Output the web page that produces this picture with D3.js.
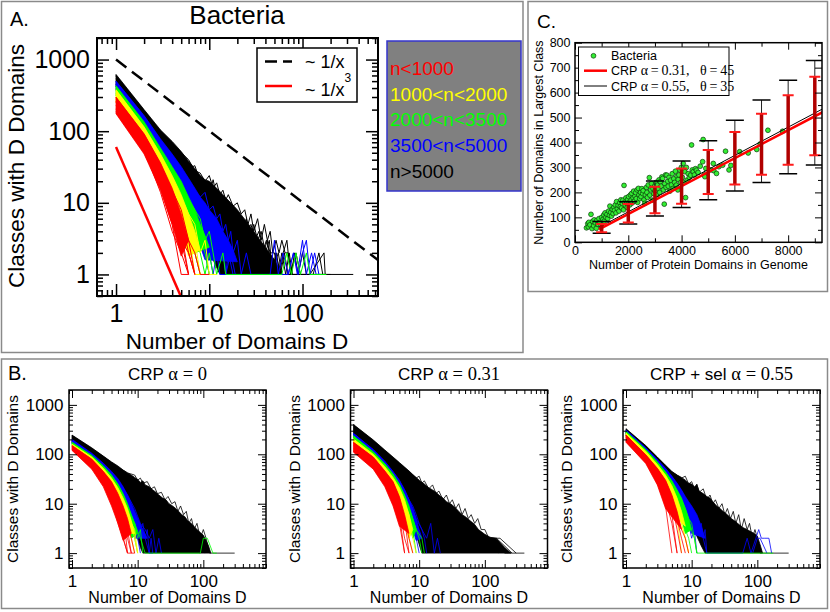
<!DOCTYPE html>
<html><head><meta charset="utf-8">
<script src="https://cdn.jsdelivr.net/npm/d3@7"></script>
<style>body{margin:0;background:#fff}svg{display:block}</style>
</head><body><svg id="c" width="830" height="612"></svg>
<script>
// ---------------- DATA ----------------
const logXTicks = [1, 10, 100];
const logYTicks = [1, 10, 100, 1000];
const groupNames = ["n<1000", "1000<n<2000", "2000<n<3500", "3500<n<5000", "n>5000"];
const groupColors = ["#ff0000", "#ffff00", "#00ff00", "#0000ff", "#000000"];

// Panel A reference lines
const A_ref1 = [[1, 1000], [640, 1.6]];      // ~1/x
const A_ref3 = [[1, 60], [5, 0.48]];         // ~1/x^3

// Panel A bundles (D, number of classes)
const A_black_up = [[1,620],[2,200],[3,104],[4,72],[5,52],[6,38],[7,30],[8,24],[9,21],[10,20],[12,16],[14,13],[17,10],[20,8],[25,5.5],[30,4],[35,3],[40,2.4],[50,1.6],[60,1]];
const A_black_lo = [[1,420],[2,125],[3,55],[4,28],[5,16],[7,6],[9,3],[11,1.6],[13,1]];
const A_black_lines = [
 [[1,600],[2,195],[3,100],[4,68],[5,50],[6,40],[7,28],[8,26],[9,20],[10,24],[11,16],[12,19],[13,13],[14,15],[15,11],[16,13],[18,9],[20,10],[22,7],[24,8],[26,5],[28,7],[30,4],[33,6],[36,3],[39,5],[42,3],[45,4],[48,2],[52,3],[56,2],[60,3],[65,2],[70,2],[76,1],[82,2],[90,1],[100,2],[110,1],[350,1]],
 [[1,550],[2,180],[3,90],[4,60],[5,42],[6,30],[7,33],[8,20],[9,17],[10,13],[11,21],[12,12],[13,10],[14,12],[15,8],[17,9],[19,6],[21,7],[23,4],[25,6],[27,3],[30,5],[33,3],[36,4],[40,2],[44,3],[48,1],[52,2],[57,1],[62,2],[68,3],[74,1],[85,2],[95,1],[200,1]],
 [[1,500],[2,160],[3,80],[4,50],[5,34],[6,25],[7,18],[8,22],[9,14],[10,11],[11,9],[12,10],[13,7],[14,8],[15,5],[16,6],[18,4],[20,5],[22,2],[24,4],[26,2],[29,3],[32,1],[35,2],[38,1],[42,2],[46,1],[55,2],[60,1],[110,1],[130,1],[150,2],[165,1]],
 [[1,450],[2,140],[3,68],[4,40],[5,26],[6,18],[7,13],[8,10],[9,8],[10,9],[11,6],[12,5],[13,6],[14,4],[15,5],[16,3],[17,4],[18,2],[20,3],[22,1],[24,2],[26,1],[40,1]],
 [[1,580],[2,190],[3,95],[4,62],[5,45],[6,34],[7,25],[8,19],[9,15],[10,12],[11,10],[12,9],[13,8],[14,6],[15,7],[17,5],[19,6],[21,4],[23,5],[25,3],[28,4],[31,2],[34,3],[37,2],[41,3],[45,2],[50,2],[55,1],[60,2],[66,1],[72,2],[78,1],[120,1],[170,2],[175,1]],
 [[1,520],[2,170],[3,86],[4,55],[5,38],[6,28],[7,22],[8,17],[9,13],[10,16],[11,11],[12,13],[13,9],[14,10],[16,7],[18,8],[20,5],[22,6],[25,4],[28,5],[31,3],[34,4],[38,2],[42,3],[47,1],[52,2],[58,1],[64,2],[70,1],[90,1]]
];
const A_blue_up = [[1,500],[2,165],[3,78],[4,48],[5,32],[6,22],[7,16],[8,12],[9,10],[10,8],[12,6],[14,4],[16,3],[18,2.2],[20,1.5]];
const A_blue_lo = [[1,370],[2,110],[3,45],[4,22],[5,12],[6,7],[7,4],[8,2.5],[9,1.6]];
const A_blue_lines = [
 [[1,490],[2,160],[3,75],[4,46],[5,30],[6,21],[7,15],[8,12],[9,14],[10,8],[11,9],[12,6],[13,7],[14,4],[15,5],[16,3],[17,4],[18,2],[20,3],[22,1],[25,2],[28,1],[45,1],[50,3],[55,1],[62,2],[70,1],[80,2],[90,1],[100,2],[110,3],[120,1],[135,2],[150,1]],
 [[1,420],[2,135],[3,60],[4,34],[5,21],[6,14],[7,10],[8,7],[9,5],[10,6],[11,3],[12,4],[13,2],[14,3],[15,1],[17,2],[19,1],[70,1],[80,2],[88,1],[100,3],[110,1],[125,2],[140,1],[160,1]],
 [[1,390],[2,120],[3,50],[4,26],[5,15],[6,9],[7,6],[8,4],[9,3],[10,2],[11,1],[12,2],[13,1],[20,1]],
 [[1,450],[2,145],[3,66],[4,38],[5,24],[6,16],[7,11],[8,8],[9,6],[10,4],[11,5],[12,3],[13,2],[14,3],[15,1],[16,2],[18,1]],
 [[1,380],[2,112],[3,46],[4,23],[5,13],[6,8],[7,5],[8,3],[9,2],[10,1]]
];
const A_green_up = [[1,430],[2,135],[3,58],[4,32],[5,20],[6,12],[7,8],[8,5],[9,3.5],[10,2.4]];
const A_green_lo = [[1,310],[2,95],[3,36],[4,16],[5,8],[6,4],[7,2]];
const A_green_lines = [
 [[1,420],[2,130],[3,55],[4,30],[5,18],[6,11],[7,8],[8,6],[9,3],[10,4],[11,2],[12,1],[14,2],[15,1],[60,1],[68,2],[76,1],[85,2],[95,1],[110,2],[120,1],[180,1]],
 [[1,340],[2,105],[3,40],[4,20],[5,10],[6,6],[7,3],[8,2],[9,1],[10,2],[11,1]],
 [[1,380],[2,115],[3,48],[4,25],[5,14],[6,8],[7,5],[8,3],[9,2],[10,1]],
 [[1,320],[2,98],[3,37],[4,17],[5,9],[6,4],[7,2],[8,1]]
];
const A_yellow_up = [[1,380],[2,115],[3,48],[4,24],[5,13],[6,7],[7,4],[8,2.2]];
const A_yellow_lo = [[1,250],[2,72],[3,25],[4,10],[5,4],[6,1.8]];
const A_yellow_lines = [
 [[1,370],[2,110],[3,45],[4,22],[5,12],[6,7],[7,5],[8,2],[9,3],[10,1],[12,1]],
 [[1,290],[2,90],[3,34],[4,15],[5,8],[6,3],[7,2],[8,1]],
 [[1,260],[2,80],[3,28],[4,13],[5,5],[6,4],[7,1],[9,1]],
 [[1,330],[2,100],[3,40],[4,18],[5,9],[6,5],[7,3],[8,1]],
 [[1,280],[2,85],[3,30],[4,12],[5,6],[6,2],[7,1]]
];
const A_red_up = [[1,300],[2,92],[3,36],[4,16],[5,7],[6,3]];
const A_red_lo = [[1,175],[2,48],[3,15],[4,5],[5,1.8]];
const A_red_lines = [
 [[1,295],[2,90],[3,35],[4,15],[5,8],[6,3],[7,2],[8,1],[10,1]],
 [[1,230],[2,65],[3,22],[4,9],[5,3],[6,2],[7,1]],
 [[1,180],[2,50],[3,16],[4,5],[5,1],[6,1]],
 [[1,210],[2,75],[3,28],[4,7],[5,4],[6,1]],
 [[1,250],[2,70],[3,18],[4,11],[5,2],[6,3],[7,1]],
 [[1,200],[2,55],[3,14],[4,4],[5,2],[6,1]],
 [[1,260],[2,80],[3,30],[4,12],[5,6],[6,2],[7,1]],
 [[1,190],[2,52],[3,17],[4,6],[5,3],[6,1]]
];

// Panel B1: CRP alpha = 0
const B1_black_up = [[1,245],[2,135],[3,92],[4,70],[5,58],[6,48],[7,42],[8,38],[9,34],[10,31],[11,27],[12,29],[13,24],[15,22],[17,19],[19,17],[21,15],[24,13],[27,12],[30,10],[34,9],[38,8],[42,7],[47,6],[52,5.5],[58,4.5],[65,4],[72,3.5],[80,3],[90,2.6],[100,2.3],[110,1.8],[120,1.4],[130,1]];
const B1_black_lo = [[1,170],[2,85],[3,48],[4,30],[5,20],[6,13],[7,8],[8,5],[9,3],[10,2],[11,1.3],[12,1]];
const B1_black_lines = [
 [[1,240],[2,130],[3,90],[5,55],[7,42],[9,38],[10,30],[11,33],[12,26],[14,28],[16,20],[18,22],[20,16],[23,17],[26,12],[29,14],[33,10],[37,11],[41,7],[45,9],[50,6],[55,7],[60,4],[66,5],[72,3],[80,4],[90,2],[100,3],[110,2],[125,1],[300,1]],
 [[1,220],[2,120],[3,80],[5,45],[7,30],[9,22],[11,16],[13,13],[15,15],[17,9],[19,11],[22,7],[25,8],[28,5],[32,6],[36,4],[40,5],[45,3],[50,4],[56,2],[62,3],[70,2],[78,3],[88,1],[98,2],[105,1]]
];
const B1_blue_up = [[1,200],[2,105],[3,66],[4,45],[5,32],[6,22],[7,15],[8,10],[9,7],[10,5],[12,3],[14,2]];
const B1_blue_lo = [[1,160],[2,80],[3,46],[4,28],[5,17],[6,10],[7,6],[8,3.5],[9,2]];
const B1_blue_lines = [
 [[1,195],[2,100],[3,60],[5,30],[7,15],[9,8],[11,4],[13,3],[15,2],[17,3],[19,1],[21,2],[23,1]],
 [[1,180],[2,95],[3,55],[5,25],[7,12],[9,6],[11,3],[13,2],[15,1],[17,1]],
 [[1,165],[2,84],[3,48],[4,30],[5,18],[6,11],[7,7],[8,4],[9,3],[10,2],[11,1]],
 [[1,190],[2,100],[3,62],[4,42],[5,29],[6,20],[7,13],[8,9],[9,6],[10,5],[11,3],[12,4],[13,2],[14,3],[15,1],[16,2],[17,1]]
];
const B1_green_up = [[1,175],[2,95],[3,58],[4,38],[5,25],[6,16],[7,10],[8,6],[9,4],[10,2.5]];
const B1_green_lo = [[1,150],[2,75],[3,40],[4,22],[5,13],[6,7],[7,4],[8,2]];
const B1_green_lines = [
 [[1,170],[2,90],[3,55],[5,22],[7,9],[9,4],[11,2],[13,1],[90,1],[100,2],[115,2],[140,1],[160,1]],
 [[1,155],[2,80],[3,44],[4,25],[5,15],[6,8],[7,5],[8,3],[9,2],[10,1]],
 [[1,172],[2,93],[3,57],[4,37],[5,24],[6,15],[7,9],[8,5],[9,4],[10,2],[11,3],[12,1]]
];
const B1_yellow_up = [[1,160],[2,88],[3,52],[4,33],[5,21],[6,13],[7,8],[8,4.5],[9,2.5]];
const B1_yellow_lo = [[1,140],[2,68],[3,35],[4,18],[5,10],[6,5],[7,2.5]];
const B1_yellow_lines = [
 [[1,155],[2,85],[3,50],[4,30],[5,17],[6,12],[7,5],[8,4],[9,2],[10,1]],
 [[1,145],[2,72],[3,38],[4,20],[5,11],[6,6],[7,3],[8,2],[9,1]],
 [[1,158],[2,86],[3,50],[4,31],[5,19],[6,11],[7,7],[8,4],[9,3],[10,1]]
];
const B1_red_up = [[1,150],[2,80],[3,45],[4,28],[5,16],[6,9],[7,5],[8,2.5]];
const B1_red_lo = [[1,120],[2,50],[3,22],[4,9],[5,4],[6,1.8]];
const B1_red_lines = [
 [[1,140],[2,70],[3,35],[4,15],[5,6],[6,2],[7,1]],
 [[1,130],[2,60],[3,30],[4,18],[5,5],[6,7],[7,1],[9,1]],
 [[1,145],[2,75],[3,42],[4,22],[5,12],[6,4],[7,3],[8,1]],
 [[1,125],[2,55],[3,25],[4,12],[5,4],[6,2],[7,1]],
 [[1,135],[2,65],[3,32],[4,16],[5,9],[6,3],[7,2],[8,1]],
 [[1,148],[2,78],[3,44],[4,26],[5,14],[6,8],[7,4],[8,2],[9,1]]
];

// Panel B2: CRP alpha = 0.31
const B2_black_up = [[1,400],[2,195],[3,122],[4,88],[5,68],[6,55],[7,46],[8,39],[9,34],[10,30],[12,25],[14,21],[16,19],[18,17],[20,15],[23,13],[26,11],[30,10],[35,8.5],[40,7],[45,6],[50,5.5],[60,4.5],[70,3.8],[80,3],[100,2.4],[120,2.1],[140,2],[160,1.8],[200,1.3],[250,1]];
const B2_black_lo = [[1,255],[2,110],[3,60],[4,35],[5,20],[6,12],[7,7],[8,4],[9,2.5],[10,1.5],[11,1]];
const B2_black_lines = [
 [[1,390],[2,190],[3,118],[5,65],[7,45],[9,33],[10,36],[11,26],[12,29],[14,20],[16,24],[18,16],[20,18],[23,12],[26,15],[29,10],[32,12],[36,8],[40,10],[45,6],[50,8],[56,5],[62,6],[70,4],[78,5],[88,3],[100,3],[115,2],[130,2],[150,2],[200,1],[400,1]],
 [[100,2],[120,2],[160,1]],
 [[110,2],[140,2],[220,1]],
 [[120,2],[150,2],[260,1]],
 [[130,2],[170,2],[300,1]]
];
const B2_blue_up = [[1,265],[2,125],[3,72],[4,45],[5,30],[6,19],[7,12],[8,8],[9,5],[10,3],[11,2]];
const B2_blue_lo = [[1,220],[2,95],[3,50],[4,30],[5,18],[6,10],[7,6],[8,3],[9,1.8]];
const B2_blue_lines = [
 [[1,260],[2,120],[3,70],[5,28],[7,12],[9,5],[11,3],[13,2],[15,4],[17,1],[19,2],[21,1]],
 [[1,225],[2,98],[3,52],[4,31],[5,19],[6,11],[7,6],[8,4],[9,2],[10,1]],
 [[1,262],[2,123],[3,71],[4,44],[5,29],[6,19],[7,12],[8,9],[9,6],[10,4],[11,3],[12,2],[13,1]]
];
const B2_green_up = [[1,235],[2,112],[3,64],[4,40],[5,25],[6,15],[7,9],[8,5],[9,3]];
const B2_green_lo = [[1,200],[2,88],[3,45],[4,26],[5,15],[6,8],[7,4],[8,2]];
const B2_green_lines = [
 [[1,230],[2,108],[3,60],[5,22],[7,8],[9,3],[11,2],[12,1]],
 [[1,205],[2,90],[3,47],[4,27],[5,16],[6,9],[7,4],[8,3],[9,1]],
 [[1,232],[2,110],[3,63],[4,39],[5,24],[6,14],[7,8],[8,5],[9,3],[10,2],[11,1]]
];
const B2_yellow_up = [[1,205],[2,100],[3,56],[4,34],[5,21],[6,12],[7,6],[8,3]];
const B2_yellow_lo = [[1,170],[2,78],[3,38],[4,20],[5,10],[6,4.5],[7,2]];
const B2_yellow_lines = [
 [[1,200],[2,95],[3,52],[4,30],[5,18],[6,10],[7,6],[8,2],[9,1]],
 [[1,175],[2,80],[3,40],[4,21],[5,11],[6,5],[7,2],[8,1]]
];
const B2_red_up = [[1,175],[2,88],[3,46],[4,28],[5,14],[6,6],[7,2.5]];
const B2_red_lo = [[1,110],[2,50],[3,22],[4,9],[5,3.5]];
const B2_red_lines = [
 [[1,165],[2,80],[3,42],[4,25],[5,11],[6,5],[7,1]],
 [[1,130],[2,60],[3,30],[4,14],[5,6],[6,1]],
 [[1,150],[2,70],[3,35],[4,20],[5,8],[6,2],[7,1]],
 [[1,115],[2,52],[3,24],[4,10],[5,4],[6,1]],
 [[1,172],[2,86],[3,45],[4,27],[5,13],[6,5],[7,2],[8,1]]
];

// Panel B3: CRP + sel alpha = 0.55
const B3_black_up = [[1,330],[2,150],[3,88],[4,60],[5,45],[6,38],[7,34],[8,30],[9,26],[10,25],[11,22],[12,24],[13,18],[15,16],[17,14],[19,13],[21,11],[24,9],[27,8],[30,7],[35,6],[40,5],[45,4.5],[50,4],[60,3.3],[70,3],[80,2.7],[90,2.5],[100,2.2],[110,1.5],[120,1]];
const B3_black_lo = [[1,260],[2,115],[3,62],[4,38],[5,25],[6,16],[7,10],[8,7],[10,4],[12,2.2],[14,1.4],[16,1]];
const B3_black_lines = [
 [[1,320],[2,145],[3,85],[5,44],[7,33],[8,36],[9,25],[10,28],[11,20],[12,25],[13,17],[15,20],[17,12],[19,15],[21,10],[23,12],[26,8],[29,10],[32,6],[35,8],[39,5],[43,7],[47,4],[52,6],[57,3],[63,5],[70,3],[76,4],[84,2],[92,3],[100,2],[110,1],[300,1]]
];
const B3_blue_up = [[1,310],[2,135],[3,78],[4,52],[5,36],[6,26],[7,19],[8,14],[9,11],[10,9],[12,6],[14,3.5],[16,2]];
const B3_blue_lo = [[1,240],[2,105],[3,56],[4,33],[5,20],[6,12],[7,8],[8,5],[10,2.5]];
const B3_blue_lines = [
 [[1,300],[2,130],[3,75],[5,33],[7,18],[9,10],[11,6],[13,4],[15,2],[17,1],[60,1],[70,2],[80,1],[95,2],[105,3],[115,2],[130,2],[150,2],[165,1]],
 [[85,1],[100,2],[110,2],[140,1]],
 [[1,245],[2,108],[3,58],[4,34],[5,21],[6,13],[7,8],[8,5],[9,4],[10,2],[11,3],[12,1]],
 [[1,305],[2,133],[3,77],[4,51],[5,35],[6,25],[7,18],[8,13],[9,10],[10,8],[11,6],[12,5],[13,3],[14,4],[15,2],[16,3],[17,1]]
];
const B3_green_up = [[1,290],[2,125],[3,70],[4,44],[5,29],[6,19],[7,13],[8,8],[9,5],[10,3]];
const B3_green_lo = [[1,230],[2,95],[3,50],[4,28],[5,16],[6,9],[7,5],[8,2.5]];
const B3_green_lines = [
 [[1,285],[2,120],[3,66],[5,26],[7,11],[9,4],[11,2],[12,1],[150,1],[175,1]],
 [[1,235],[2,98],[3,52],[4,29],[5,17],[6,9],[7,5],[8,3],[9,2],[10,1]],
 [[1,288],[2,123],[3,69],[4,43],[5,28],[6,18],[7,12],[8,8],[9,5],[10,4],[11,2],[12,1]]
];
const B3_yellow_up = [[1,270],[2,115],[3,62],[4,38],[5,23],[6,13],[7,7],[8,3.5]];
const B3_yellow_lo = [[1,210],[2,88],[3,42],[4,22],[5,11],[6,5]];
const B3_yellow_lines = [
 [[1,265],[2,110],[3,58],[4,34],[5,18],[6,10],[7,4],[8,2],[9,1]],
 [[1,215],[2,90],[3,44],[4,23],[5,12],[6,5],[7,1]],
 [[1,240],[2,100],[3,52],[4,30],[5,17],[6,9],[7,4],[8,2],[9,1]]
];
const B3_red_up = [[1,245],[2,98],[3,52],[4,30],[5,15],[6,7],[7,3]];
const B3_red_lo = [[1,175],[2,65],[3,24],[4,8]];
const B3_red_lines = [
 [[1,240],[2,95],[3,48],[4,14],[5,10],[6,3],[7,1]],
 [[1,200],[2,80],[3,35],[4,10],[5,6],[6,1]],
 [[1,220],[2,85],[3,30],[4,16],[5,8],[6,5],[7,2],[8,1]],
 [[1,180],[2,68],[3,26],[4,9],[5,1]],
 [[1,190],[2,72],[3,30],[4,12],[5,4],[6,1]],
 [[1,242],[2,96],[3,51],[4,29],[5,14],[6,6],[7,3],[8,2],[9,1]]
];

// Panel C
const C_xTicks = [0, 2000, 4000, 6000, 8000];
const C_yTicks = [0, 100, 200, 300, 400, 500, 600, 700, 800];
const C_bacteria = [
 [430,58],[480,75],[500,62],[520,80],[560,70],[600,112],[640,55],[660,84],[700,66],[720,90],[760,78],[800,56],[820,88],[860,72],[900,95],[940,80],[980,68],[1000,100],
 [1050,92],[1080,110],[1100,85],[1130,118],[1160,100],[1200,112],[1230,95],[1260,125],[1290,108],[1310,145],[1340,120],[1370,105],[1400,132],[1430,115],[1460,140],[1480,128],[1510,150],[1540,118],[1560,163],[1590,135],[1620,148],[1650,125],[1680,158],[1700,143],[1720,170],[1750,138],[1780,155],[1800,169],[1820,130],[1840,228],[1860,160],[1890,148],[1910,178],[1940,156],[1960,140],[1980,172],
 [2010,183],[2030,160],[2060,150],[2080,190],[2110,170],[2130,196],[2150,158],[2180,178],[2200,205],[2230,165],[2250,185],[2280,199],[2300,175],[2330,210],[2350,160],[2380,216],[2400,190],[2430,175],[2460,200],[2480,183],[2510,215],[2540,195],[2560,207],[2590,170],[2620,156],[2640,190],[2680,220],[2700,200],[2720,180],[2750,230],[2790,259],[2810,189],[2840,210],[2870,235],[2900,169],[2930,215],[2960,195],[2990,225],
 [3010,207],[3040,240],[3070,190],[3090,229],[3120,215],[3150,250],[3180,200],[3200,243],[3230,225],[3260,262],[3290,256],[3320,210],[3350,153],[3370,235],[3400,270],[3420,220],[3450,269],[3480,245],[3500,225],[3530,260],[3560,205],[3590,249],[3620,230],[3650,275],[3680,216],[3710,255],[3740,240],[3770,285],[3800,229],[3830,265],[3860,210],[3875,252],[3900,270],[3940,289],[3970,240],[3990,300],
 [4030,260],[4060,316],[4090,240],[4125,283],[4150,179],[4180,300],[4210,249],[4250,275],[4290,260],[4340,269],[4375,390],[4400,290],[4440,283],[4480,270],[4520,295],[4560,289],[4620,280],[4700,305],[4790,323],[4810,412],[4850,270],[4875,263],[4910,296],
 [5100,290],[5190,316],[5210,287],[5310,276],[5400,303],[5540,309],[5650,365],[5780,290],[5850,308],[6180,363],[6500,358],[6820,372],[6950,394],[7240,449],[7790,445]
];
const C_barX = [1000, 2000, 3000, 4000, 5000, 6000, 7000, 8000, 9000];
const C_black_lo = [36, 73, 105, 139, 171, 206, 240, 275, 310];
const C_black_hi = [83, 163, 246, 326, 407, 489, 570, 650, 729];
const C_red_lo = [40, 79, 116, 155, 194, 232, 271, 311, 349];
const C_red_hi = [73, 154, 223, 296, 370, 442, 515, 589, 664];
const C_red_fit = [[900, 52], [9300, 522]];     // CRP alpha=0.31, theta=45
const C_black_fit = [[900, 60], [9300, 535]];   // CRP alpha=0.55, theta=35

// ---------------- DRAWING ----------------
const SANS = "'Liberation Sans', Arial, Helvetica, sans-serif";
const SERIF = "'Liberation Serif', 'Times New Roman', serif";
const svg = d3.select("#c");

function box(x, y, w, h) {
  svg.append("rect").attr("x", x).attr("y", y).attr("width", w).attr("height", h)
    .attr("fill", "none").attr("stroke", "#8a8a8a").attr("stroke-width", 1.5);
}
box(1.5, 1.5, 521.5, 351);
box(528, 1.5, 299.5, 290);
box(1.5, 359, 826, 249.5);

function txt(x, y, s, size, opts = {}) {
  return svg.append("text").attr("x", x).attr("y", y).text(s)
    .attr("font-family", opts.family || SANS).attr("font-size", size)
    .attr("text-anchor", opts.anchor || "start").attr("fill", opts.fill || "#000");
}

function logMinor(domain, majors) {
  const out = [];
  const e0 = Math.floor(Math.log10(domain[0])), e1 = Math.ceil(Math.log10(domain[1]));
  for (let e = e0; e <= e1; e++) for (let k = 1; k <= 9; k++) {
    const v = k * Math.pow(10, e);
    if (v >= domain[0] && v <= domain[1] && !majors.includes(v)) out.push(v);
  }
  return out;
}

function axes(g, x, y, o) {
  const [x0, x1] = x.range(), [yb, yt] = y.range();
  const defs = [
    [d3.axisBottom, x, `translate(0,${yb})`, o.xMaj, o.xMin, true, o.xpad],
    [d3.axisTop, x, `translate(0,${yt})`, o.xMaj, o.xMin, false, 0],
    [d3.axisLeft, y, `translate(${x0},0)`, o.yMaj, o.yMin, true, o.ypad],
    [d3.axisRight, y, `translate(${x1},0)`, o.yMaj, o.yMin, false, 0]
  ];
  defs.forEach(([mk, sc, tr, maj, mn, lab, pad]) => {
    const gm = g.append("g").attr("transform", tr)
      .call(mk(sc).tickValues(mn).tickSize(-o.minLen).tickFormat(""));
    gm.select(".domain").remove();
    gm.selectAll("line").attr("stroke-width", o.tw);
    const gM = g.append("g").attr("transform", tr)
      .call(mk(sc).tickValues(maj).tickSize(-o.majLen).tickPadding(pad)
        .tickFormat(lab ? (d => d3.format("d")(d)) : ""));
    gM.select(".domain").remove();
    gM.selectAll("line").attr("stroke-width", o.tw);
    gM.attr("font-family", SANS).attr("font-size", o.font);
    gM.selectAll("text").attr("fill", "#000");
  });
  g.append("rect").attr("x", x0).attr("y", yt).attr("width", x1 - x0).attr("height", yb - yt)
    .attr("fill", "none").attr("stroke", "#000").attr("stroke-width", o.fw);
}

let clipN = 0;
function clipFor(g, x, y) {
  const id = "clip" + (clipN++);
  const [x0, x1] = x.range(), [yb, yt] = y.range();
  svg.append("clipPath").attr("id", id).append("rect")
    .attr("x", x0).attr("y", yt).attr("width", x1 - x0).attr("height", yb - yt);
  return g.append("g").attr("clip-path", `url(#${id})`);
}

function bundle(g, x, y, up, lo, lines, color, lw) {
  const ln = d3.line().x(d => x(d[0])).y(d => y(d[1]));
  const pts = up.concat(lo.slice().reverse());
  g.append("path").attr("d", ln(pts) + "Z").attr("fill", color)
    .attr("stroke", color).attr("stroke-width", 0.8).attr("stroke-linejoin", "round");
  lines.forEach(l => g.append("path").attr("d", ln(l)).attr("fill", "none")
    .attr("stroke", color).attr("stroke-width", lw));
}

// ---------- Panel A ----------
{
  const x = d3.scaleLog().domain([0.625, 645]).range([97, 378]);
  const y = d3.scaleLog().domain([0.5, 2000]).range([296, 38]);
  const g = svg.append("g");
  const c = clipFor(g, x, y);
  const ln = d3.line().x(d => x(d[0])).y(d => y(d[1]));
  bundle(c, x, y, A_black_up, A_black_lo, A_black_lines, "#000000", 1);
  bundle(c, x, y, A_blue_up, A_blue_lo, A_blue_lines, "#0000ff", 1);
  bundle(c, x, y, A_green_up, A_green_lo, A_green_lines, "#00ff00", 1);
  bundle(c, x, y, A_yellow_up, A_yellow_lo, A_yellow_lines, "#ffff00", 1);
  bundle(c, x, y, A_red_up, A_red_lo, A_red_lines, "#ff0000", 1);
  c.append("path").attr("d", ln(A_ref3)).attr("stroke", "#ff0000").attr("stroke-width", 2.5).attr("fill", "none");
  c.append("path").attr("d", ln(A_ref1)).attr("stroke", "#000").attr("stroke-width", 2.5)
    .attr("stroke-dasharray", "13,7").attr("fill", "none");
  axes(g, x, y, { xMaj: logXTicks, xMin: logMinor(x.domain(), logXTicks),
    yMaj: logYTicks, yMin: logMinor(y.domain(), logYTicks),
    majLen: 12, minLen: 6, tw: 1.5, fw: 2, font: 25, xpad: 8, ypad: 7 });
  g.append("rect").attr("x", 257).attr("y", 48).attr("width", 100).attr("height", 54)
    .attr("fill", "#fff").attr("stroke", "#000").attr("stroke-width", 1.5);
  g.append("line").attr("x1", 265).attr("x2", 292).attr("y1", 61.5).attr("y2", 61.5)
    .attr("stroke", "#000").attr("stroke-width", 2.5).attr("stroke-dasharray", "12,6");
  g.append("line").attr("x1", 265).attr("x2", 292).attr("y1", 86).attr("y2", 86)
    .attr("stroke", "#ff0000").attr("stroke-width", 2.5);
  txt(305, 68, "~ 1/x", 18);
  const t3 = txt(305, 96, "~ 1/x", 18);
  t3.append("tspan").attr("dy", -14).attr("font-size", 12).text("3");
  txt(10, 26, "A.", 20);
  txt(237, 24, "Bacteria", 26, { anchor: "middle" });
  txt(237, 349, "Number of Domains D", 22.5, { anchor: "middle" });
  svg.append("text").attr("transform", "translate(24,166) rotate(-90)").attr("text-anchor", "middle")
    .attr("font-family", SANS).attr("font-size", 22.5).text("Classes with D Domains");
  svg.append("rect").attr("x", 387).attr("y", 41).attr("width", 134).attr("height", 150)
    .attr("fill", "#808080").attr("stroke", "#3535cc").attr("stroke-width", 1.5);
  groupNames.forEach((s, i) => txt(390, 75 + i * 25.7, s, 19, { fill: groupColors[i] }));
}

// ---------- Panel B ----------
const Bdefs = [
  { x0: 69, title: ["CRP ", "α = 0"], data: [
    [B1_black_up, B1_black_lo, B1_black_lines, "#000000"], [B1_blue_up, B1_blue_lo, B1_blue_lines, "#0000ff"],
    [B1_green_up, B1_green_lo, B1_green_lines, "#00ff00"], [B1_yellow_up, B1_yellow_lo, B1_yellow_lines, "#ffff00"],
    [B1_red_up, B1_red_lo, B1_red_lines, "#ff0000"]] },
  { x0: 350.5, title: ["CRP ", "α = 0.31"], data: [
    [B2_black_up, B2_black_lo, B2_black_lines, "#000000"], [B2_blue_up, B2_blue_lo, B2_blue_lines, "#0000ff"],
    [B2_green_up, B2_green_lo, B2_green_lines, "#00ff00"], [B2_yellow_up, B2_yellow_lo, B2_yellow_lines, "#ffff00"],
    [B2_red_up, B2_red_lo, B2_red_lines, "#ff0000"]] },
  { x0: 623, title: ["CRP + sel ", "α = 0.55"], data: [
    [B3_black_up, B3_black_lo, B3_black_lines, "#000000"], [B3_blue_up, B3_blue_lo, B3_blue_lines, "#0000ff"],
    [B3_green_up, B3_green_lo, B3_green_lines, "#00ff00"], [B3_yellow_up, B3_yellow_lo, B3_yellow_lines, "#ffff00"],
    [B3_red_up, B3_red_lo, B3_red_lines, "#ff0000"]] }
];
txt(8, 380, "B.", 20);
Bdefs.forEach(b => {
  const x = d3.scaleLog().domain([0.9, 900]).range([b.x0, b.x0 + 197]);
  const y = d3.scaleLog().domain([0.5, 2000]).range([568, 390]);
  const g = svg.append("g");
  const c = clipFor(g, x, y);
  b.data.forEach(d => bundle(c, x, y, d[0], d[1], d[2], d[3], 0.8));
  axes(g, x, y, { xMaj: logXTicks, xMin: logMinor(x.domain(), logXTicks),
    yMaj: logYTicks, yMin: logMinor(y.domain(), logYTicks),
    majLen: 8, minLen: 4, tw: 1, fw: 1.5, font: 17, xpad: 6.5, ypad: 5.5 });
  const cx = b.x0 + 98.5;
  const t = txt(cx, 380, b.title[0], 17, { anchor: "middle" });
  t.append("tspan").attr("font-family", SERIF).attr("font-size", 18.5).text(b.title[1]);
  txt(cx, 603, "Number of Domains D", 16, { anchor: "middle" });
  svg.append("text").attr("transform", `translate(${b.x0 - 51},479) rotate(-90)`).attr("text-anchor", "middle")
    .attr("font-family", SANS).attr("font-size", 15.5).text("Classes with D Domains");
});

// ---------- Panel C ----------
{
  const x = d3.scaleLinear().domain([0, 9270]).range([575, 822]);
  const y = d3.scaleLinear().domain([0, 800]).range([242.3, 42.7]);
  const g = svg.append("g");
  const c = clipFor(g, x, y);
  c.selectAll("circle.pt").data(C_bacteria).enter().append("circle")
    .attr("cx", d => x(d[0])).attr("cy", d => y(d[1])).attr("r", 2.4)
    .attr("fill", "#33ee33").attr("stroke", "#0a3a0a").attr("stroke-width", 0.7);
  const ln = d3.line().x(d => x(d[0])).y(d => y(d[1]));
  c.append("path").attr("d", ln(C_black_fit)).attr("stroke", "#000").attr("stroke-width", 1).attr("fill", "none");
  c.append("path").attr("d", ln(C_red_fit)).attr("stroke", "#ff0000").attr("stroke-width", 2.5).attr("fill", "none");
  C_barX.forEach((bx, i) => {
    const X = x(bx);
    c.append("line").attr("x1", X).attr("x2", X).attr("y1", y(C_black_lo[i])).attr("y2", y(C_black_hi[i]))
      .attr("stroke", "#222").attr("stroke-width", 1);
    [C_black_lo[i], C_black_hi[i]].forEach(v => c.append("line").attr("x1", X - 9).attr("x2", X + 9)
      .attr("y1", y(v)).attr("y2", y(v)).attr("stroke", "#000").attr("stroke-width", 1.5));
  });
  C_barX.forEach((bx, i) => {
    const X = x(bx);
    c.append("line").attr("x1", X).attr("x2", X).attr("y1", y(C_red_lo[i])).attr("y2", y(C_red_hi[i]))
      .attr("stroke", "#b00000").attr("stroke-width", 3.5);
    [C_red_lo[i], C_red_hi[i]].forEach(v => c.append("line").attr("x1", X - 5.5).attr("x2", X + 5.5)
      .attr("y1", y(v)).attr("y2", y(v)).attr("stroke", "#ff1a1a").attr("stroke-width", 2));
  });
  const xMin = [1000, 3000, 5000, 7000, 9000];
  const yMin = [50, 150, 250, 350, 450, 550, 650, 750];
  axes(g, x, y, { xMaj: C_xTicks, xMin: xMin, yMaj: C_yTicks, yMin: yMin,
    majLen: 7, minLen: 4, tw: 1, fw: 1.5, font: 12.5, xpad: 3.5, ypad: 4.5 });
  g.append("rect").attr("x", 578.5).attr("y", 47).attr("width", 150.5).attr("height", 48.5)
    .attr("fill", "#fff").attr("stroke", "#000").attr("stroke-width", 1);
  g.append("circle").attr("cx", 593.5).attr("cy", 55.8).attr("r", 2.4)
    .attr("fill", "#33ee33").attr("stroke", "#0a3a0a").attr("stroke-width", 0.7);
  g.append("line").attr("x1", 584).attr("x2", 607).attr("y1", 70.7).attr("y2", 70.7)
    .attr("stroke", "#ff0000").attr("stroke-width", 2.5);
  g.append("line").attr("x1", 584).attr("x2", 607).attr("y1", 86).attr("y2", 86)
    .attr("stroke", "#000").attr("stroke-width", 1);
  txt(611, 60, "Bacteria", 12.5);
  const l2 = txt(611, 75.2, "CRP ", 12.5);
  l2.append("tspan").attr("font-family", SERIF).attr("font-size", 14).text("α\u2009=\u20090.31,\u2002 θ\u2009=\u200945");
  const l3 = txt(611, 90.5, "CRP ", 12.5);
  l3.append("tspan").attr("font-family", SERIF).attr("font-size", 14).text("α\u2009=\u20090.55,\u2002 θ\u2009=\u200935");
  txt(537, 28, "C.", 19);
  txt(698.5, 269, "Number of Protein Domains in Genome", 12.5, { anchor: "middle" });
  svg.append("text").attr("transform", "translate(543,142.5) rotate(-90)").attr("text-anchor", "middle")
    .attr("font-family", SANS).attr("font-size", 12.5).text("Number of Domains in Largest Class");
}
</script></body></html>
